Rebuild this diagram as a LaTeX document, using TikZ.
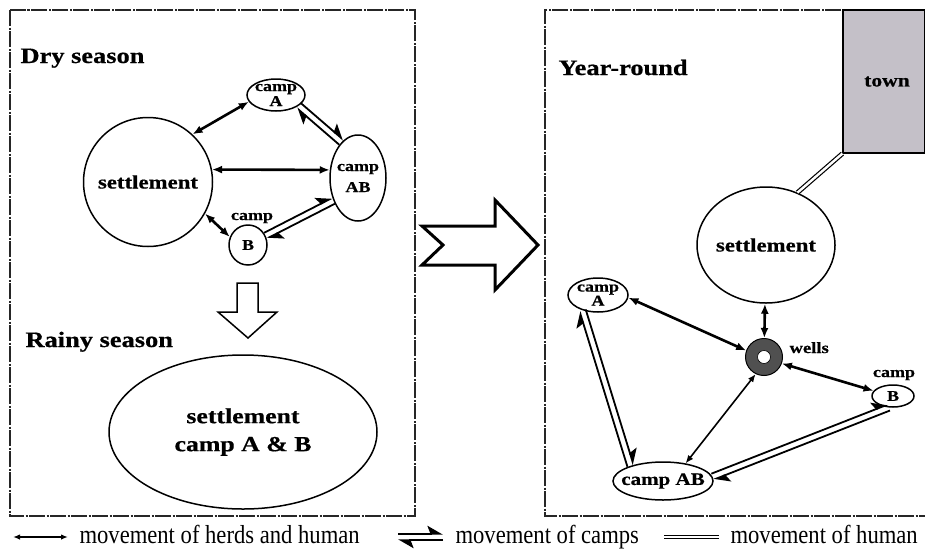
\documentclass[tikz,border=0pt]{standalone}
\usepackage{fontspec}
\setmainfont{Liberation Serif}
\newfontfamily\labelfont[FakeStretch=1.2, FakeBold=0.6]{Liberation Serif Bold}
\newfontfamily\legendfont[FakeStretch=0.87]{Liberation Serif}
\usetikzlibrary{shapes.geometric, arrows.meta, calc}
\definecolor{towngray}{RGB}{196,192,200}
\definecolor{wellgray}{RGB}{80,80,80}
\newcommand{\lbl}[2]{\labelfont\fontsize{#1}{#2}\selectfont}
\newcommand{\pairgap}{3.2pt}
% two parallel harpoons, one each way
\newcommand{\camppair}[2]{%
  \draw[campline] ($(#1)!\pairgap!90:(#2)$) -- ($(#2)!\pairgap!-90:(#1)$);
  \draw[campline] ($(#2)!\pairgap!90:(#1)$) -- ($(#1)!\pairgap!-90:(#2)$);}

\begin{document}
\begin{tikzpicture}[x=1pt, y=-1pt,
  place/.style={ellipse, draw, line width=1.5pt, inner xsep=-10pt, inner ysep=-6pt, align=center},
  panel/.style={draw=black!85, line width=1.2pt, dash pattern=on 16pt off 1.5pt on 2pt off 1.5pt},
  herd/.style={<->, >={Latex[length=10pt,width=8pt]}, line width=2.6pt},
  thinherd/.style={<->, >={Latex[length=8pt,width=6.5pt]}, line width=1.6pt},
  campline/.style={->, >={Stealth[harpoon,length=14pt,width=16pt,inset=3pt]}, line width=1.8pt},
  human/.style={double, double distance=2.4pt, line width=1.2pt},
  block/.style={draw, fill=white, line width=1.5pt, line join=miter},
  legend/.style={anchor=base west, font=\legendfont\fontsize{26}{26}\selectfont}]

\useasboundingbox (0,0) rectangle (925,549);

%Left panel
\draw[panel] (10,10) rectangle (415,516);
\node[anchor=base west, font=\lbl{22}{22}] (dry) at (17,63) {Dry season};

\node[place, minimum size=129, font=\lbl{19}{19}] (setL) at (148,182) {settlement};
\node[place, minimum width=58, minimum height=32, font=\lbl{15}{15}] (campAl) at (276,95) {camp\\A};
\node[place, minimum width=56, minimum height=86, font=\lbl{15}{21}] (campABl) at (358,178) {camp\\AB};
\node[place, minimum width=38, minimum height=40, font=\lbl{15}{15}] (campBl) at (248,245) {B};
\node[anchor=base, font=\lbl{15}{15}] (campBlTag) at (252,220) {camp};

\draw[herd] (setL.47) -- (campAl.194);
\draw[herd] (setL.11) -- (campABl.164);
\draw[herd] (setL.-29) -- (campBl.156);
\camppair{campAl.-25}{campABl.115}
\camppair{campBl.28}{campABl.-137}

% dry to rainy
\draw[block] (237,283) -- (258,283) -- (258,312) -- (277,312) -- (248,338) -- (218,312) -- (237,312) -- cycle;

\node[anchor=base west, font=\lbl{22}{22}] (rainy) at (22,347) {Rainy season};
\node[place, minimum width=268, minimum height=154, font=\lbl{21.5}{28}] (wet) at (243,432) {settlement\\camp A \& B};

% seasons to year-round
\draw[block, line width=3pt] (422,226) -- (495,226) -- (495,200) -- (538,245) -- (495,290) -- (495,265) -- (422,265) -- (443,245) -- cycle;

%Right panel
\draw[panel] (925,10) -- (545,10) -- (545,516) -- (925,516);
\node[anchor=base west, font=\lbl{22}{22}] (year) at (555,75) {Year-round};

\node[draw, line width=1.2pt, fill=towngray, minimum width=82, minimum height=143, inner sep=0pt, font=\lbl{18}{18}] (town) at (884,81.5) {\hspace*{6pt}town};
\node[place, minimum width=138, minimum height=116, font=\lbl{19}{19}] (setR) at (766,245) {settlement};
\node[circle, draw=black, line width=1pt, fill=wellgray, minimum size=37,
  path picture={\fill[white, draw=black, line width=0.6pt] (path picture bounding box.center) circle (6.5pt);}] (wells) at (764,357) {};
\node[anchor=base west, font=\lbl{15.5}{16}] (wellsTag) at (786,353) {wells};
\node[place, minimum width=60, minimum height=34, font=\lbl{15}{14}] (campAr) at (598,295) {camp\\A};
\node[place, minimum width=42, minimum height=22, font=\lbl{15}{15}] (campBr) at (893,396) {B};
\node[anchor=base, font=\lbl{15}{15}] (campBrTag) at (894,377) {camp};
\node[place, minimum width=100, minimum height=38, font=\lbl{17.5}{18}] (campABr) at (663,481) {camp AB};

\draw[human] (setR.59) -- (town.south west);
\draw[herd] (setR) -- (wells);
\draw[herd] (campAr.-5) -- (wells.160);
\draw[herd] (wells.-20) -- (campBr.165);
\draw[thinherd] (wells.-116) -- (campABr.38);
\camppair{campAr.-135}{campABr.155}
\camppair{campABr.5}{campBr.-110}

%Legend
\coordinate (herdL) at (13,537); \coordinate (herdR) at (68,537);
\draw[<->, >={Latex[length=7pt,width=5.5pt]}, line width=1.4pt] (herdL) -- (herdR);
\node[legend] (herdTxt) at (76,543) {movement of herds and human};
\coordinate (campL) at (398,537); \coordinate (campR) at (443,537);
\camppair{campL}{campR}
\node[legend] (campTxt) at (452,543) {movement of camps};
\coordinate (humL) at (664,537); \coordinate (humR) at (719,537);
\draw[human] (humL) -- (humR);
\node[legend] (humTxt) at (727,543) {movement of human};

\end{tikzpicture}
\end{document}
